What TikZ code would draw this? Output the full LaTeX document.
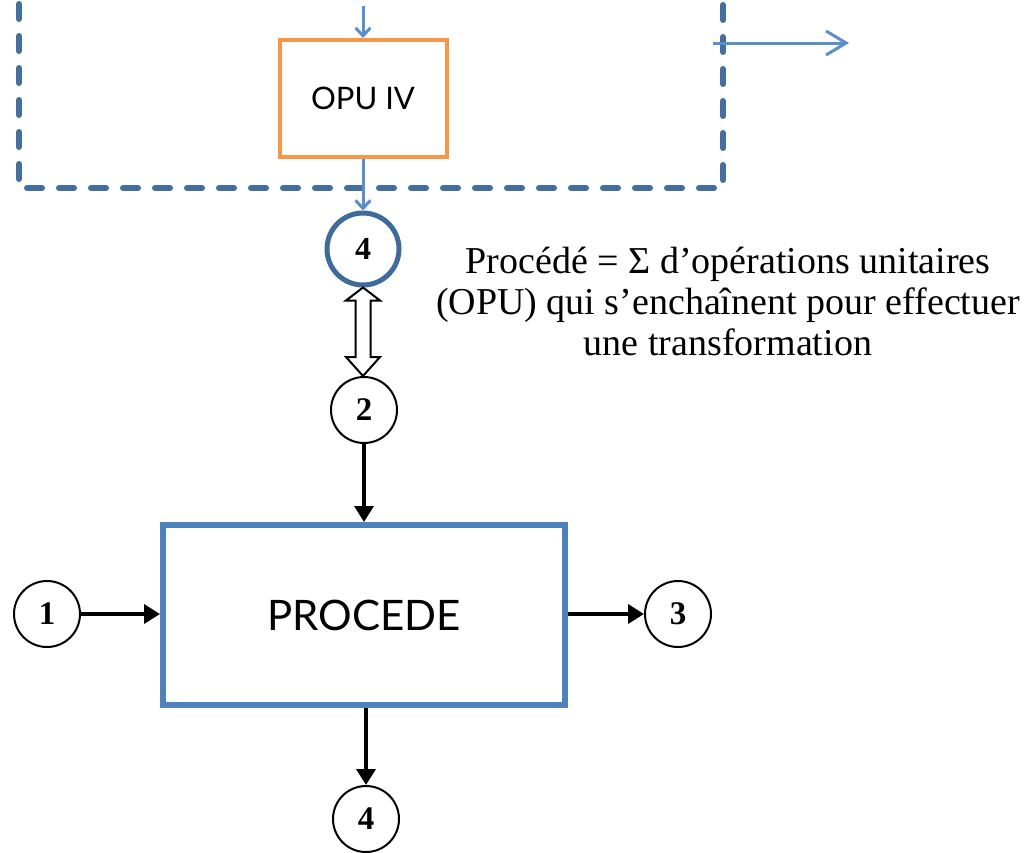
\documentclass[tikz,border=0pt]{standalone}
\usepackage{fontspec}
\setmainfont{Liberation Serif}
\newfontfamily\gill{Lato}
\usetikzlibrary{arrows.meta,calc}
\definecolor{dashblue}{HTML}{41709F}
\definecolor{lightblue}{HTML}{5B8FCB}
\definecolor{opuorange}{HTML}{F79646}
\definecolor{boxblue}{HTML}{4F81BD}
\definecolor{ringblue}{HTML}{3F6A9C}
\begin{document}
\begin{tikzpicture}[x=1pt,y=-1pt,
  numcircle/.style={circle,draw=black,line width=2pt,minimum size=66pt,inner sep=0pt,font=\fontsize{33}{33}\selectfont\bfseries},
  blackarrow/.style={line width=3.5pt,-{Triangle[length=16pt,width=19pt]}},
  bluearrow/.style={draw=lightblue,line width=3pt,-{Straight Barb[length=8pt,width=15pt]}},
]
\useasboundingbox (0,0) rectangle (1031,852);
% dashed boundary
\draw[dashblue,line width=6pt,line cap=round,dash pattern=on 15pt off 17pt] (19,4) -- (19,188) -- (723,188) -- (723,4);
% OPU IV
\node[draw=opuorange,line width=4pt,minimum width=167pt,minimum height=117pt,inner sep=0pt,font=\gill\fontsize{31}{31}\selectfont] (opu) at (363,98.5) {OPU IV};
\coordinate (topin) at (363,6);
\draw[bluearrow] (topin) -- (opu.north);
\node[circle,draw=ringblue,line width=5pt,minimum size=72pt,inner sep=0pt,font=\fontsize{32}{32}\selectfont\bfseries] (c4t) at (363,249) {4};
\draw[bluearrow] (opu.south) -- (c4t.north);
% outgoing arrow
\coordinate (outS) at (713,43);
\coordinate (outE) at (849,43);
\draw[lightblue,line width=3pt,-{Straight Barb[length=20pt,width=24pt]}] (outS) -- (outE);
% text
\node[align=center,inner sep=0pt,font=\fontsize{38}{41}\selectfont] (txt) at (728,301) {Procédé = Σ d’opérations unitaires\\(OPU) qui s’enchaînent pour effectuer\\une transformation};
% circle 2 and double arrow
\node[numcircle] (c2) at (364,410) {2};
\draw[line width=2pt,fill=white] (c4t.south) -- ++(17,13) -- ++(-9.5,0) -- ($(c4t.south |- c2.north)+(7.5,-19)$) -- ++(9.5,0) -- (c4t.south |- c2.north) -- ++(-17,-19) -- ++(9.5,0) -- ($(c4t.south)+(-7.5,13)$) -- ++(-9.5,0) -- cycle;
% process box
\node[draw=boxblue,line width=6pt,minimum width=402pt,minimum height=180pt,inner sep=0pt,font=\gill\fontsize{42}{42}\selectfont] (proc) at (364,615) {PROCEDE};
\node[numcircle] (c1) at (47,614) {1};
\node[numcircle] (c3) at (678,614) {3};
\node[numcircle] (c4b) at (366,819) {4};
\draw[blackarrow] (c2.south) -- (c2.south |- proc.north);
\draw[blackarrow] (c1.east) -- (c1.east -| proc.west);
\draw[blackarrow] (c3.west -| proc.east) -- (c3.west);
\draw[blackarrow] (c4b.north |- proc.south) -- (c4b.north);
\end{tikzpicture}
\end{document}
